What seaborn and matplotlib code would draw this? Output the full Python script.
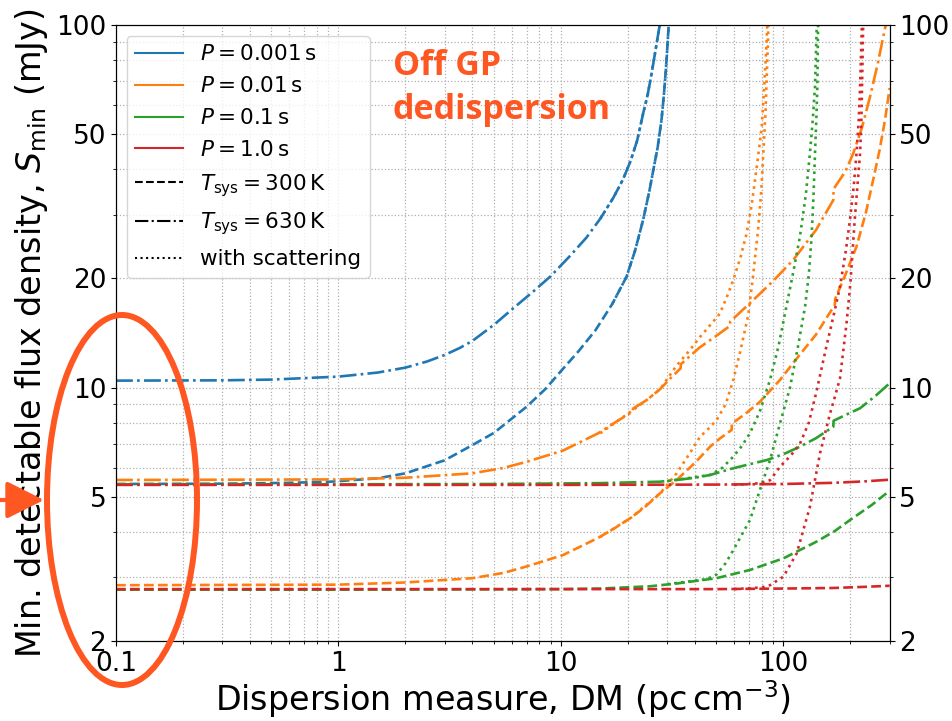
import numpy as np
import pandas as pd
import matplotlib
matplotlib.use("Agg")
import matplotlib.pyplot as plt
import seaborn as sns
from matplotlib.lines import Line2D
from matplotlib.patches import Ellipse, FancyArrowPatch
from matplotlib.ticker import FixedLocator, FixedFormatter, NullFormatter, LogLocator

# ---------------- data ----------------
# P = 0.001 s
b_d_dm = [0.1, 0.3, 0.6, 0.92, 1.5, 2.0, 3.0, 4.0, 5.0, 7.0, 8.5, 10.0, 12.0, 14.3, 17.0, 19.7, 21.5,
          23.4, 25.0, 26.0, 27.2, 28.3, 29.0, 29.6, 30.0, 30.5, 30.8]
b_d_s = [5.42, 5.43, 5.46, 5.50, 5.62, 5.80, 6.30, 6.94, 7.50, 8.85, 9.9, 11.1, 12.6, 14.4, 17.0, 20.2, 23.8,
         29.0, 35.0, 39.8, 46.0, 54.7, 64.0, 75.1, 85.0, 100, 115]
b_dd_dm = [0.1, 0.3, 0.5, 1.0, 1.5, 2.0, 2.5, 3.0, 3.5, 4.0, 5.0, 6.0, 7.5, 9.0, 11.0, 13.0, 15.0, 17.2,
           19.0, 20.5, 22.0, 23.4, 24.5, 25.5, 26.5, 27.4, 28.0, 28.5]
b_dd_s = [10.45, 10.47, 10.52, 10.72, 11.0, 11.35, 11.8, 12.3, 12.85, 13.45, 14.9, 16.4, 18.4, 20.3, 23.1,
          25.9, 29.2, 33.4, 37.5, 42.0, 48.0, 57.0, 64.0, 73.0, 84.0, 95.0, 103, 115]
b_s300_dm = [17.0, 19.7, 21.5, 23.4, 25.0, 26.0, 27.2, 28.3, 29.0, 29.6, 30.0, 30.5, 30.8]
b_s300_s = [17.0, 20.2, 23.8, 29.0, 35.0, 39.8, 46.0, 54.7, 64.0, 75.1, 85.0, 100, 115]
b_s630_dm = [15.0, 17.2, 19.0, 20.5, 22.0, 23.4, 24.5, 25.5, 26.5, 27.4, 28.0, 28.5]
b_s630_s = [29.2, 33.4, 37.5, 42.0, 48.0, 57.0, 64.0, 73.0, 84.0, 95.0, 103, 115]

# P = 0.01 s
o_d_dm = [0.1, 1.0, 2.0, 4.0, 5.5, 7.0, 10.2, 14.7, 17.5, 20.7, 24.0, 27.9, 33.1, 40.0, 46.8, 52.0,
          58.5, 58.6, 68.0, 78.4, 96.5, 110.7, 140, 170, 171, 190, 213, 235, 253, 270, 286, 300]
o_d_s = [2.85, 2.86, 2.90, 2.98, 3.08, 3.21, 3.45, 3.85, 4.10, 4.38, 4.70, 5.11, 5.56, 6.20, 6.87, 7.25,
         7.64, 7.95, 8.50, 9.14, 10.5, 11.7, 14.0, 16.9, 17.6, 20.5, 24.5, 30.5, 37.4, 45.0, 54.7, 67.0]
o_dd_dm = [0.1, 1.0, 2.0, 4.0, 5.5, 7.0, 10.2, 14.7, 18.0, 21.0, 21.1, 24.3, 27.9, 31.0, 34.5, 34.6,
           42.0, 50.0, 57.5, 57.6, 75.8, 90.0, 110.7, 140, 167.5, 168, 190, 206, 225, 245, 265, 286, 300]
o_dd_s = [5.56, 5.58, 5.64, 5.80, 6.00, 6.24, 6.70, 7.48, 8.10, 8.58, 8.75, 9.24, 9.90, 10.6, 11.3, 11.6,
          12.9, 13.9, 14.8, 15.2, 17.8, 19.7, 22.5, 27.2, 32.9, 35.3, 39.5, 44.3, 52.0, 63.4, 78.0, 98, 110]
o_s300_dm = [15.0, 20.7, 27.9, 33.1, 38.0, 42.2, 46.0, 50.1, 55.0, 59.5, 64.0, 69.5, 73.0, 77.0, 79.5,
             81.2, 83.0, 84.3, 85.5, 86.3]
o_s300_s = [3.87, 4.38, 5.11, 5.80, 6.60, 7.32, 7.70, 8.14, 9.00, 10.5, 12.6, 15.9, 20.3, 27.5, 35.0,
            44.3, 57.0, 75.0, 98, 120]
o_s630_dm = [15.0, 20.7, 24.3, 27.9, 33.1, 38.0, 42.2, 47.0, 51.8, 55.5, 59.5, 64.0, 68.3, 72.0, 76.0,
             79.8, 82.0, 84.0, 85.0]
o_s630_s = [7.48, 8.6, 9.24, 9.9, 11.5, 12.7, 13.8, 14.9, 16.0, 17.7, 19.8, 22.8, 26.6, 32.0, 41.0,
            52.0, 68.0, 90.0, 110]

# P = 0.1 s
g_d_dm = [0.1, 1.0, 10.0, 15.0, 25.0, 33.0, 50.0, 70.7, 100, 141, 170, 199, 250, 296, 300]
g_d_s = [2.77, 2.77, 2.78, 2.79, 2.83, 2.88, 2.98, 3.14, 3.38, 3.76, 4.02, 4.31, 4.75, 5.16, 5.20]
g_dd_dm = [0.1, 1.0, 5.0, 15.0, 27.9, 33.1, 40.0, 46.8, 59.5, 70.0, 84.1, 100, 118.6, 140, 167.5, 168,
           190, 221, 260, 296, 300]
g_dd_s = [5.41, 5.41, 5.42, 5.45, 5.50, 5.56, 5.64, 5.74, 5.99, 6.14, 6.31, 6.55, 6.87, 7.25, 7.80, 8.10,
          8.40, 8.77, 9.50, 10.2, 10.3]
g_s300_dm = [30.0, 45.0, 50.0, 55.0, 59.5, 65.0, 70.7, 78.4, 87.0, 96.5, 107, 116, 125, 130, 133.8,
             136.5, 138.6, 140.5, 142, 143, 144]
g_s300_s = [2.87, 2.96, 3.05, 3.28, 3.56, 3.93, 4.31, 5.22, 6.31, 7.97, 10.0, 12.9, 16.7, 20.5, 26.1,
            34.0, 44.3, 55.0, 67.6, 98, 120]
g_s630_dm = [30.0, 46.8, 53.0, 59.5, 65.0, 70.7, 78.4, 87.0, 95.0, 103, 111, 118.6, 126, 131.5, 135.5,
             138.6, 141, 142.5]
g_s630_s = [5.52, 5.74, 6.00, 6.45, 6.90, 7.48, 8.62, 10.5, 13.0, 16.7, 21.0, 26.1, 34.0, 44.3, 55.0,
            67.6, 98, 120]

# P = 1.0 s
r_d_dm = [0.1, 10.0, 50.0, 100, 167, 230, 300]
r_d_s = [2.78, 2.78, 2.78, 2.79, 2.80, 2.82, 2.84]
r_dd_dm = [0.1, 1.0, 10.0, 50.0, 100, 167, 230, 300]
r_dd_s = [5.39, 5.39, 5.39, 5.40, 5.42, 5.46, 5.51, 5.57]
r_s300_dm = [60.0, 80.0, 87.0, 100, 114.7, 131.5, 146, 162, 170, 179.5, 192, 200, 209, 215, 221, 224,
             225.5, 228, 230]
r_s300_s = [2.78, 2.81, 2.85, 3.01, 3.49, 4.69, 6.59, 8.49, 9.4, 10.6, 15.0, 19.5, 29.0, 36.0, 44.3,
            55.0, 67.6, 98, 120]
r_s630_dm = [60.0, 80.0, 87.0, 96.5, 108, 118.6, 130, 141, 156, 168, 179.5, 190, 199, 207, 213, 218,
             221, 225, 228]
r_s630_s = [5.39, 5.45, 5.55, 6.05, 6.50, 7.00, 8.00, 9.80, 13.0, 15.8, 19.0, 23.5, 29.0, 36.0, 44.3,
            55.0, 67.6, 98, 120]

periods = ["0.001", "0.01", "0.1", "1.0"]
colors = ["tab:blue", "tab:orange", "tab:green", "tab:red"]
curves = [
    [(b_d_dm, b_d_s), (b_dd_dm, b_dd_s), (b_s300_dm, b_s300_s), (b_s630_dm, b_s630_s)],
    [(o_d_dm, o_d_s), (o_dd_dm, o_dd_s), (o_s300_dm, o_s300_s), (o_s630_dm, o_s630_s)],
    [(g_d_dm, g_d_s), (g_dd_dm, g_dd_s), (g_s300_dm, g_s300_s), (g_s630_dm, g_s630_s)],
    [(r_d_dm, r_d_s), (r_dd_dm, r_dd_s), (r_s300_dm, r_s300_s), (r_s630_dm, r_s630_s)],
]
styles = ["--", "-.", ":", ":"]

yticks = [2, 5, 10, 20, 50, 100]
xticks = [0.1, 1, 10, 100]
xticklabels = ["0.1", "1", "10", "100"]

ACCENT = "#FF5722"
LW = 1.9

# ---------------- figure ----------------
fig = plt.figure(figsize=(9.53, 7.21), dpi=100)
ax = fig.add_axes([0.1217, 0.1110, 0.8118, 0.8543])
ax.set_xscale("log")
ax.set_yscale("log")

for col, group in zip(colors, curves):
    for (dm, s), ls in zip(group, styles):
        df = pd.DataFrame({"DM": dm, "S": s})
        sns.lineplot(data=df, x="DM", y="S", ax=ax, color=col, linestyle=ls,
                     linewidth=LW, estimator=None, sort=False)

ax.set_xlim(0.1, 300)
ax.set_ylim(2, 100)
ax.xaxis.set_major_locator(FixedLocator(xticks))
ax.xaxis.set_major_formatter(FixedFormatter(xticklabels))
ax.xaxis.set_minor_locator(LogLocator(base=10, subs=np.arange(2, 10)))
ax.xaxis.set_minor_formatter(NullFormatter())
ax.yaxis.set_major_locator(FixedLocator(yticks))
ax.yaxis.set_major_formatter(FixedFormatter([str(v) for v in yticks]))
ax.yaxis.set_minor_locator(LogLocator(base=10, subs=np.arange(2, 10)))
ax.yaxis.set_minor_formatter(NullFormatter())
ax.tick_params(labelsize=19)
ax.grid(True, which="both", linestyle=":", color="#b0b0b0", linewidth=0.9)

ax.set_xlabel(r"Dispersion measure, DM ($\mathrm{pc\,cm^{-3}}$)", fontsize=24, labelpad=1)
ax.set_ylabel(r"Min. detectable flux density, $S_\mathrm{min}$ (mJy)", fontsize=24)

ax2 = ax.twinx()
ax2.set_yscale("log")
ax2.set_ylim(2, 100)
ax2.yaxis.set_major_locator(FixedLocator(yticks))
ax2.yaxis.set_major_formatter(FixedFormatter([str(v) for v in yticks]))
ax2.yaxis.set_minor_locator(LogLocator(base=10, subs=np.arange(2, 10)))
ax2.yaxis.set_minor_formatter(NullFormatter())
ax2.tick_params(labelsize=19)

handles = [Line2D([], [], color=c, lw=1.5) for c in colors]
labels = [rf"$P = {p}\,\mathrm{{s}}$" for p in periods]
handles += [Line2D([], [], color="k", lw=1.5, ls="--"),
            Line2D([], [], color="k", lw=1.5, ls="-."),
            Line2D([], [], color="k", lw=1.5, ls=":")]
labels += [r"$T_\mathrm{sys} = 300\,\mathrm{K}$", r"$T_\mathrm{sys} = 630\,\mathrm{K}$", "with scattering"]
ax.legend(handles, labels, loc="upper left", fontsize=15.5, handlelength=2.2, labelspacing=0.55)

fig.text(393 / 953, 1 - 49 / 721, "Off GP\ndedispersion", color=ACCENT,
         fontsize=24.5, fontweight="bold", family=["Open Sans", "DejaVu Sans"],
         ha="left", va="top", linespacing=1.38)

ell = Ellipse((122 / 953, 1 - 500 / 721), 150 / 953, 370 / 721, transform=fig.transFigure,
              fill=False, edgecolor=ACCENT, linewidth=4.3, clip_on=False)
fig.add_artist(ell)
arr = FancyArrowPatch((0.0, 1 - 500 / 721), (44 / 953, 1 - 500 / 721), transform=fig.transFigure,
                      arrowstyle="-|>,head_length=1.0,head_width=0.5", mutation_scale=23,
                      color=ACCENT, linewidth=3.0, clip_on=False, shrinkA=0, shrinkB=0)
fig.add_artist(arr)

fig.savefig("out.png", dpi=100)
